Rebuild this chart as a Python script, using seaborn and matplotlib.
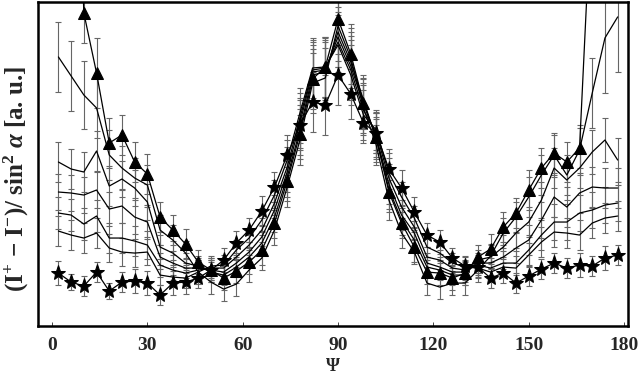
import numpy as np
import pandas as pd
import matplotlib
matplotlib.use("Agg")
import matplotlib.pyplot as plt
import seaborn as sns

# angle psi in degrees (every 4 deg)
psi = list(range(2, 180, 4))

# asymmetry (a. u.) per series
tri = [7.5, 7.0, 3.13, 2.53, 1.83, 1.91, 1.64, 1.52, 1.09, 0.96, 0.82, 0.64, 0.56, 0.48, 0.55,
       0.64, 0.76, 1.03, 1.45, 1.92, 2.47, 2.59, 3.07, 2.72, 2.23, 1.89, 1.34, 1.03, 0.79, 0.54,
       0.53, 0.48, 0.53, 0.69, 0.77, 0.99, 1.13, 1.36, 1.58, 1.73, 1.64, 1.78, 4.43, 5.0, 5.5]
star = [0.53, 0.44, 0.40, 0.54, 0.35, 0.44, 0.45, 0.43, 0.31, 0.43, 0.44, 0.48, 0.56, 0.66, 0.83,
        0.96, 1.15, 1.39, 1.71, 2.01, 2.24, 2.21, 2.51, 2.32, 2.03, 1.93, 1.57, 1.38, 1.14, 0.91,
        0.84, 0.68, 0.60, 0.59, 0.48, 0.53, 0.43, 0.50, 0.57, 0.63, 0.58, 0.61, 0.60, 0.68, 0.71]
line0 = [2.69, 2.50, 2.31, 2.18, 1.71, 1.58, 1.48, 1.41, 0.96, 0.86, 0.73, 0.54, 0.44, 0.37, 0.42,
         0.56, 0.68, 0.96, 1.39, 1.86, 2.43, 2.48, 3.00, 2.68, 2.18, 1.81, 1.26, 0.93, 0.74, 0.43,
         0.39, 0.43, 0.43, 0.56, 0.70, 0.93, 1.09, 1.29, 1.51, 1.71, 1.51, 1.76, 2.33, 2.88, 3.09]
line1 = [1.64, 1.57, 1.54, 1.75, 1.40, 1.47, 1.38, 1.24, 0.79, 0.73, 0.63, 0.60, 0.54, 0.51, 0.59,
         0.69, 0.83, 1.09, 1.49, 1.96, 2.51, 2.54, 2.94, 2.64, 2.26, 1.87, 1.37, 1.06, 0.86, 0.59,
         0.56, 0.51, 0.51, 0.66, 0.69, 0.79, 0.93, 1.04, 1.26, 1.58, 1.46, 1.58, 1.74, 1.86, 1.66]
line2 = [1.34, 1.33, 1.31, 1.36, 1.17, 1.20, 1.09, 1.04, 0.69, 0.63, 0.58, 0.58, 0.56, 0.54, 0.63,
         0.74, 0.89, 1.16, 1.54, 2.03, 2.54, 2.56, 2.89, 2.60, 2.22, 1.89, 1.42, 1.11, 0.93, 0.63,
         0.59, 0.54, 0.54, 0.63, 0.63, 0.69, 0.78, 0.86, 1.06, 1.29, 1.19, 1.33, 1.39, 1.38, 1.38]
line3 = [1.13, 1.11, 1.02, 1.10, 0.88, 0.88, 0.85, 0.81, 0.61, 0.56, 0.53, 0.56, 0.58, 0.58, 0.69,
         0.81, 0.96, 1.23, 1.59, 2.08, 2.56, 2.58, 2.84, 2.56, 2.16, 1.93, 1.48, 1.19, 0.99, 0.69,
         0.66, 0.58, 0.56, 0.61, 0.58, 0.63, 0.63, 0.76, 0.91, 1.04, 1.04, 1.13, 1.16, 1.21, 1.23]
line4 = [0.95, 0.91, 0.88, 0.93, 0.78, 0.74, 0.73, 0.74, 0.51, 0.49, 0.48, 0.54, 0.60, 0.61, 0.76,
         0.88, 1.06, 1.31, 1.66, 2.13, 2.58, 2.59, 2.81, 2.51, 2.11, 1.96, 1.53, 1.29, 1.08, 0.79,
         0.73, 0.63, 0.59, 0.58, 0.54, 0.59, 0.58, 0.71, 0.84, 0.94, 0.93, 0.91, 1.03, 1.08, 1.10]

# error bars (a. u.)
tri_err = [0.5, 0.5, 0.3, 0.35, 0.25, 0.2, 0.2, 0.2, 0.15, 0.15, 0.15, 0.12, 0.12, 0.12, 0.12,
           0.12, 0.15, 0.15, 0.2, 0.25, 0.3, 0.3, 0.35, 0.3, 0.25, 0.25, 0.2, 0.15, 0.15, 0.12,
           0.12, 0.12, 0.12, 0.12, 0.15, 0.15, 0.15, 0.2, 0.2, 0.2, 0.2, 0.2, 0.5, 0.5, 0.5]
star_err = [0.12, 0.08, 0.1, 0.1, 0.08, 0.1, 0.12, 0.12, 0.1, 0.12, 0.12, 0.1, 0.1, 0.12, 0.12,
            0.12, 0.15, 0.15, 0.2, 0.25, 0.3, 0.3, 0.3, 0.25, 0.2, 0.2, 0.2, 0.18, 0.15, 0.12,
            0.12, 0.1, 0.1, 0.1, 0.1, 0.1, 0.1, 0.1, 0.1, 0.1, 0.1, 0.12, 0.1, 0.12, 0.1]
line0_err = [0.35, 0.35, 0.34, 0.3, 0.25, 0.22, 0.2, 0.2, 0.15, 0.15, 0.12, 0.12, 0.12, 0.12, 0.12,
             0.12, 0.12, 0.15, 0.2, 0.25, 0.3, 0.3, 0.35, 0.3, 0.25, 0.2, 0.2, 0.15, 0.12, 0.12,
             0.12, 0.12, 0.12, 0.12, 0.12, 0.15, 0.15, 0.2, 0.2, 0.2, 0.2, 0.25, 0.35, 0.55, 0.55]
line1_err = [0.2, 0.2, 0.2, 0.2, 0.2, 0.18, 0.18, 0.18, 0.12, 0.12, 0.1, 0.1, 0.1, 0.1, 0.1,
             0.1, 0.12, 0.15, 0.2, 0.25, 0.3, 0.3, 0.35, 0.3, 0.25, 0.2, 0.2, 0.15, 0.12, 0.1,
             0.1, 0.1, 0.1, 0.1, 0.12, 0.12, 0.15, 0.15, 0.18, 0.2, 0.2, 0.2, 0.22, 0.22, 0.22]
line2_err = [0.18, 0.18, 0.18, 0.18, 0.17, 0.17, 0.17, 0.15, 0.12, 0.12, 0.1, 0.1, 0.1, 0.1, 0.1,
             0.1, 0.12, 0.15, 0.2, 0.25, 0.3, 0.3, 0.3, 0.3, 0.25, 0.2, 0.2, 0.15, 0.12, 0.1,
             0.1, 0.1, 0.1, 0.1, 0.12, 0.12, 0.15, 0.15, 0.18, 0.2, 0.2, 0.2, 0.2, 0.2, 0.2]
line3_err = [0.16, 0.16, 0.16, 0.16, 0.15, 0.15, 0.15, 0.14, 0.12, 0.1, 0.1, 0.1, 0.1, 0.1, 0.1,
             0.1, 0.12, 0.15, 0.2, 0.25, 0.3, 0.3, 0.3, 0.3, 0.25, 0.2, 0.2, 0.15, 0.12, 0.1,
             0.1, 0.1, 0.1, 0.1, 0.1, 0.12, 0.12, 0.15, 0.15, 0.18, 0.18, 0.18, 0.18, 0.18, 0.18]
line4_err = [0.15, 0.15, 0.15, 0.15, 0.14, 0.14, 0.14, 0.13, 0.1, 0.1, 0.1, 0.1, 0.1, 0.1, 0.1,
             0.1, 0.12, 0.15, 0.2, 0.25, 0.3, 0.3, 0.3, 0.3, 0.25, 0.2, 0.2, 0.15, 0.12, 0.1,
             0.1, 0.1, 0.1, 0.1, 0.1, 0.1, 0.12, 0.12, 0.15, 0.15, 0.15, 0.15, 0.15, 0.15, 0.15]

xticks = [0, 30, 60, 90, 120, 150, 180]

sns.set_theme(style="white")
plt.rcParams['font.family'] = ['Liberation Serif', 'DejaVu Serif']
plt.rcParams['mathtext.fontset'] = 'custom'
plt.rcParams['mathtext.rm'] = 'Liberation Serif:bold'
plt.rcParams['mathtext.it'] = 'Liberation Serif:italic:bold'
plt.rcParams['mathtext.bf'] = 'Liberation Serif:bold'

fig, ax = plt.subplots(figsize=(6.4, 3.85), dpi=100)
fig.subplots_adjust(left=0.059, right=0.981, top=0.995, bottom=0.153)

series = [
    ("lines", line4, line4_err, None, 0),
    ("lines", line3, line3_err, None, 0),
    ("lines", line2, line2_err, None, 0),
    ("lines", line1, line1_err, None, 0),
    ("lines", line0, line0_err, None, 0),
    ("star", star, star_err, '*', 11),
    ("tri", tri, tri_err, '^', 8),
]

for name, vals, errs, mk, ms in series:
    ax.errorbar(psi, vals, yerr=errs, fmt='none', ecolor='#666666',
                elinewidth=0.8, capsize=2.2, capthick=0.8, zorder=2)
    df = pd.DataFrame({'psi': psi, 'val': vals})
    sns.lineplot(data=df, x='psi', y='val', ax=ax, color='black', linewidth=0.9,
                 marker=mk, markersize=ms, markeredgecolor='black',
                 markerfacecolor='black', zorder=3)

ax.set_xlim(-4.5, 181.2)
ax.set_ylim(0, 3.24)
ax.set_xticks(xticks)
ax.set_xticklabels([str(t) for t in xticks], fontsize=14, fontweight='bold')
ax.set_yticks([])
ax.tick_params(axis='x', direction='in', length=3, width=0.6, bottom=True, top=False, pad=8)
ax.set_xlabel('Ψ', fontsize=13, fontweight='bold', labelpad=3)
ax.set_ylabel(r'(I$^{+}$ $-$ I$^{-}$)/ sin$^{2}$ $\alpha$ [a. u.]', fontsize=18,
              fontweight='bold')
ax.yaxis.set_label_coords(-0.012, 0.455)
for sp in ax.spines.values():
    sp.set_visible(True)
    sp.set_color('black')
    sp.set_linewidth(1.8)

fig.savefig('out.png', dpi=100)
